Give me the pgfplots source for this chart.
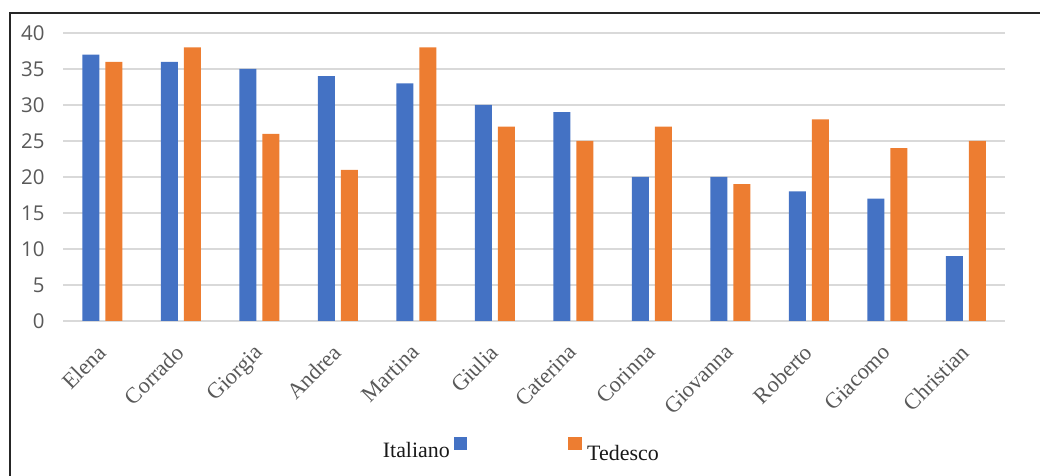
\documentclass[border=0pt]{standalone}
\usepackage{pgfplots}
\pgfplotsset{compat=1.18}
\usepackage{fontspec}
\setmainfont{Liberation Serif}
\newfontfamily\tickfont{Open Sans}
\definecolor{ita}{HTML}{4472C4}
\definecolor{ted}{HTML}{ED7D31}
\definecolor{tk}{HTML}{595959}
\definecolor{gr}{HTML}{D9D9D9}
\begin{document}
\begin{tikzpicture}[x=1bp,y=1bp]
\useasboundingbox (0,0) rectangle (1040,476);
\draw[line width=1.6bp,black!85] (10,0) -- (10,463) -- (1040,463);
\begin{axis}[
  at={(63bp,155bp)}, anchor=south west,
  scale only axis, width=942bp, height=288bp,
  xmin=-0.5, xmax=11.5, ymin=0, ymax=40,
  ybar=6bp, bar width=17bp,
  axis line style={draw=none},
  ytick={0,5,...,40},
  ymajorgrids, grid style={gr, line width=1.3bp},
  major tick length=0pt,
  xtick=data,
  xticklabels={Elena,Corrado,Giorgia,Andrea,Martina,Giulia,Caterina,Corinna,Giovanna,Roberto,Giacomo,Christian},
  xticklabel style={xshift=-6bp, yshift=-22bp, rotate=45, anchor=north east, inner sep=0pt, font=\fontsize{22.5}{24}\selectfont, text=tk},
  yticklabel style={font=\fontsize{20.5}{22}\selectfont\tickfont, text=tk, xshift=-15bp},
  /pgf/number format/assume math mode=true,
  clip=false,
]
\addplot[fill=ita, draw=none] coordinates {(0,37) (1,36) (2,35) (3,34) (4,33) (5,30) (6,29) (7,20) (8,20) (9,18) (10,17) (11,9)};
\addplot[fill=ted, draw=none] coordinates {(0,36) (1,38) (2,26) (3,21) (4,38) (5,27) (6,25) (7,27) (8,19) (9,28) (10,24) (11,25)};
\end{axis}
\node[anchor=base east, inner sep=0pt, font=\fontsize{22}{24}\selectfont, text=black!90] at (450,18) {Italiano};
\fill[ita] (454,26) rectangle (467,39);
\fill[ted] (568,26) rectangle (582,39);
\node[anchor=base west, inner sep=0pt, font=\fontsize{22}{24}\selectfont, text=black!90] at (587,15) {Tedesco};
\end{tikzpicture}
\end{document}
